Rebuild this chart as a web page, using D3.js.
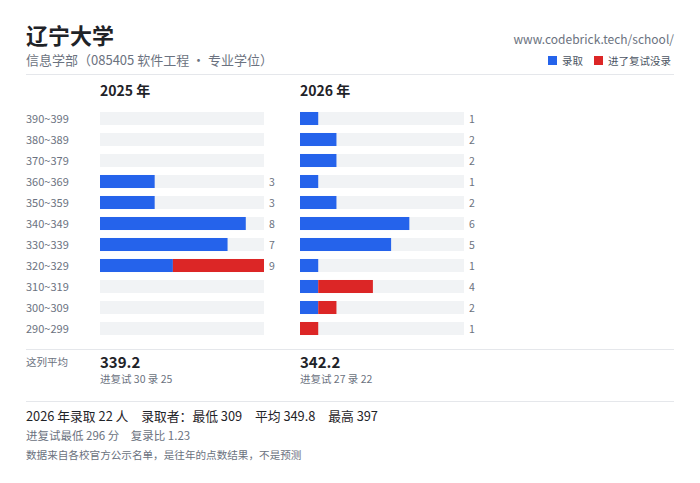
<!DOCTYPE html>
<html>
<head>
<meta charset="utf-8">
<script src="https://cdn.jsdelivr.net/npm/d3@7"></script>
<style>
body { margin:0; background:#fff; font-family:"Noto Sans CJK SC","Noto Sans",sans-serif; }
</style>
</head>
<body>
<svg id="chart" width="700" height="483"></svg>
<script>
const bins = ["390~399","380~389","370~379","360~369","350~359","340~349","330~339","320~329","310~319","300~309","290~299"];
const admit2025 = [0,0,0,3,3,8,7,4,0,0,0];
const fail2025  = [0,0,0,0,0,0,0,5,0,0,0];
const admit2026 = [1,2,2,1,2,6,5,1,1,1,0];
const fail2026  = [0,0,0,0,0,0,0,0,3,1,1];
const years = ["2025 年","2026 年"];
const avgs = ["339.2","342.2"];
const subs = ["进复试 30 录 25","进复试 27 录 22"];

const blue = "#2563eb", red = "#dc2626", track = "#f1f3f5";
const svg = d3.select("#chart");
const txt = (x,y,s,size,fill,weight,anchor) => svg.append("text").attr("x",x).attr("y",y)
  .attr("font-size",size).attr("fill",fill).attr("font-weight",weight||400)
  .attr("text-anchor",anchor||"start").text(s);

txt(26,44,"辽宁大学",22,"#1f2328",700);
txt(26,65,"信息学部（085405 软件工程 · 专业学位）",13,"#6b7280");
txt(674,44,"www.codebrick.tech/school/",12,"#6b7280",400,"end");
svg.append("rect").attr("x",548).attr("y",56).attr("width",9).attr("height",9).attr("fill",blue);
txt(562,65,"录取",10.5,"#4b5563");
svg.append("rect").attr("x",594).attr("y",56).attr("width",9).attr("height",9).attr("fill",red);
txt(608,65,"进了复试没录",10.5,"#4b5563");
svg.append("line").attr("x1",26).attr("x2",674).attr("y1",74.5).attr("y2",74.5).attr("stroke","#e5e7eb");

const y = d3.scaleBand().domain(bins).range([108,339]).paddingInner(0.38).paddingOuter(0.19);
bins.forEach(b => txt(26,y(b)+y.bandwidth()/2+4,b,11,"#6b7280"));

const series = [[admit2025,fail2025],[admit2026,fail2026]];
[100,300].forEach((x0,k) => {
  const x = d3.scaleLinear().domain([0,9]).range([x0,x0+164]);
  txt(x0,96,years[k],14,"#1f2328",700);
  const [a,f] = series[k];
  const g = svg.append("g");
  g.selectAll(".t").data(bins).join("rect").attr("x",x0).attr("y",d=>y(d))
    .attr("width",164).attr("height",y.bandwidth()).attr("fill",track);
  g.selectAll(".a").data(bins).join("rect").attr("x",x0).attr("y",d=>y(d))
    .attr("width",(d,i)=>x(a[i])-x0).attr("height",y.bandwidth()).attr("fill",blue);
  g.selectAll(".f").data(bins).join("rect").attr("x",(d,i)=>x(a[i])).attr("y",d=>y(d))
    .attr("width",(d,i)=>x(a[i]+f[i])-x(a[i])).attr("height",y.bandwidth()).attr("fill",red);
  bins.forEach((b,i) => { const n=a[i]+f[i]; if(n>0) txt(x0+169,y(b)+y.bandwidth()/2+4,n,10.5,"#6b7280"); });
  txt(x0,368,avgs[k],15,"#1f2328",700);
  txt(x0,383,subs[k],10.5,"#6b7280");
});
svg.append("line").attr("x1",26).attr("x2",674).attr("y1",349.5).attr("y2",349.5).attr("stroke","#e5e7eb");
txt(26,366,"这列平均",10.5,"#6b7280");
svg.append("line").attr("x1",26).attr("x2",674).attr("y1",401.5).attr("y2",401.5).attr("stroke","#e5e7eb");
txt(26,421,"2026 年录取 22 人　录取者：最低 309　平均 349.8　最高 397",12.8,"#1f2328");
txt(26,440,"进复试最低 296 分　复录比 1.23",11.5,"#6b7280");
txt(26,459,"数据来自各校官方公示名单，是往年的点数结果，不是预测",10.6,"#6b7280");
</script>
</body>
</html>
